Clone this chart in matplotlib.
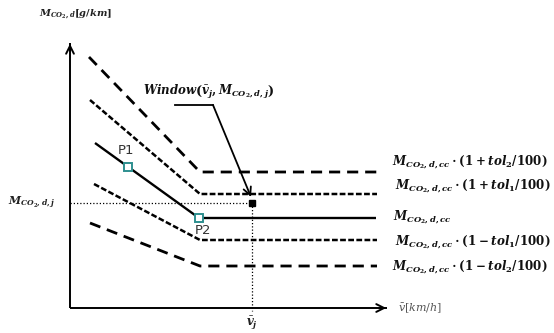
import matplotlib
matplotlib.use("Agg")
import matplotlib.pyplot as plt

plt.rcParams['mathtext.fontset'] = 'custom'
plt.rcParams['mathtext.rm'] = 'DejaVu Serif:bold'
plt.rcParams['mathtext.it'] = 'DejaVu Serif:italic:bold'
plt.rcParams['mathtext.bf'] = 'DejaVu Serif:bold'

# ---- schematic data (pixel-like layout units, y grows downward) ----
line_names = ['tol2_plus', 'tol1_plus', 'cc', 'tol1_minus', 'tol2_minus']
x_start = [89, 90, 95, 94, 90]
y_start = [57, 100, 143, 184, 223]
x_bend = [200, 200, 199, 200, 200]
y_flat = [172, 194, 218, 240, 266]
x_end = [377, 377, 376, 377, 377]
line_labels = [
    r'$M_{CO_2,d,cc}\cdot(1+tol_2/100)$',
    r'$M_{CO_2,d,cc}\cdot(1+tol_1/100)$',
    r'$M_{CO_2,d,cc}$',
    r'$M_{CO_2,d,cc}\cdot(1-tol_1/100)$',
    r'$M_{CO_2,d,cc}\cdot(1-tol_2/100)$',
]
label_x = [392, 395, 393, 395, 392]
label_y = [162, 186, 217, 242, 267]

p_names = ['P1', 'P2']
p_x = [128, 199]
p_y = [167, 218]

window_x = 252
window_y = 203

axis_origin = (70, 308)
axis_top = 41
axis_right = 389

teal = '#2e8f8f'

fig = plt.figure(figsize=(5.54, 3.33), dpi=100)
ax = fig.add_axes([0, 0, 1, 1])
ax.set_xlim(0, 554)
ax.set_ylim(333, 0)
ax.axis('off')

# axes with arrows
ox, oy = axis_origin
ax.plot([ox, ox], [oy, axis_top + 2], color='black', lw=1.4, solid_capstyle='butt')
ax.plot([ox, axis_right - 2], [oy, oy], color='black', lw=1.4, solid_capstyle='butt')
ax.annotate('', xy=(ox, axis_top), xytext=(ox, axis_top + 12),
            arrowprops=dict(arrowstyle='->', lw=1.4, color='black', mutation_scale=14))
ax.annotate('', xy=(axis_right, oy), xytext=(axis_right - 12, oy),
            arrowprops=dict(arrowstyle='->', lw=1.4, color='black', mutation_scale=14))

styles = {
    'tol2_plus': dict(lw=2.0, ls=(0, (4.0, 2.5))),
    'tol1_plus': dict(lw=1.8, ls=(0, (2.3, 0.95))),
    'cc': dict(lw=1.7, ls='-'),
    'tol1_minus': dict(lw=1.8, ls=(0, (2.3, 0.95))),
    'tol2_minus': dict(lw=2.0, ls=(0, (4.0, 2.5))),
}
for i, name in enumerate(line_names):
    st = styles[name]
    ax.plot([x_start[i], x_bend[i], x_end[i]], [y_start[i], y_flat[i], y_flat[i]],
            color='black', lw=st['lw'], linestyle=st['ls'], solid_capstyle='butt',
            dash_capstyle='butt', zorder=3)
    ax.text(label_x[i], label_y[i], line_labels[i], fontsize=8.6, color='#111111',
            ha='left', va='center')

# dotted guide lines
ax.plot([ox, window_x], [window_y, window_y], color='black', lw=0.9,
        linestyle=(0, (1, 1.6)), zorder=2)
ax.plot([window_x, window_x], [window_y, oy + 3], color='black', lw=0.9,
        linestyle=(0, (1, 1.6)), zorder=2)
ax.plot([window_x], [window_y], marker='s', ms=5, color='black', zorder=5)

# P1, P2 markers
ax.plot(p_x, p_y, linestyle='none', marker='s', ms=6, mfc='white', mec=teal,
        mew=1.4, zorder=6)
ax.text(p_x[0] - 2, p_y[0] - 16, p_names[0], fontsize=9.5, color='#333333',
        ha='center', va='center', family='DejaVu Sans')
ax.text(p_x[1] + 4, p_y[1] + 12, p_names[1], fontsize=9.5, color='#333333',
        ha='center', va='center', family='DejaVu Sans')

# window annotation with leader
ax.plot([175, 213], [105, 105], color='black', lw=1.3)
ax.annotate('', xy=(window_x - 1, window_y - 6), xytext=(213, 105),
            arrowprops=dict(arrowstyle='->', lw=1.3, color='black', mutation_scale=14,
                            shrinkA=0, shrinkB=0))
ax.text(143, 92, r'$Window\left(\bar{v}_j,M_{CO_2,d,j}\right)$',
        fontsize=8.5, color='#111111', ha='left', va='center')

# axis texts
ax.text(39, 14, r'$M_{CO_2,d}[g/km]$', fontsize=7.1, color='#222222',
        ha='left', va='center')
ax.text(8, 203, r'$M_{CO_2,d,j}$', fontsize=7.8, color='#222222',
        ha='left', va='center')
ax.text(window_x, 323, r'$\bar{v}_j$', fontsize=8.5, color='#222222',
        ha='center', va='center')
ax.text(398, 308, r'$\bar{v}[km/h]$', fontsize=8, color='#555555',
        ha='left', va='center', math_fontfamily='dejavuserif')

fig.savefig('out.png', dpi=100)
